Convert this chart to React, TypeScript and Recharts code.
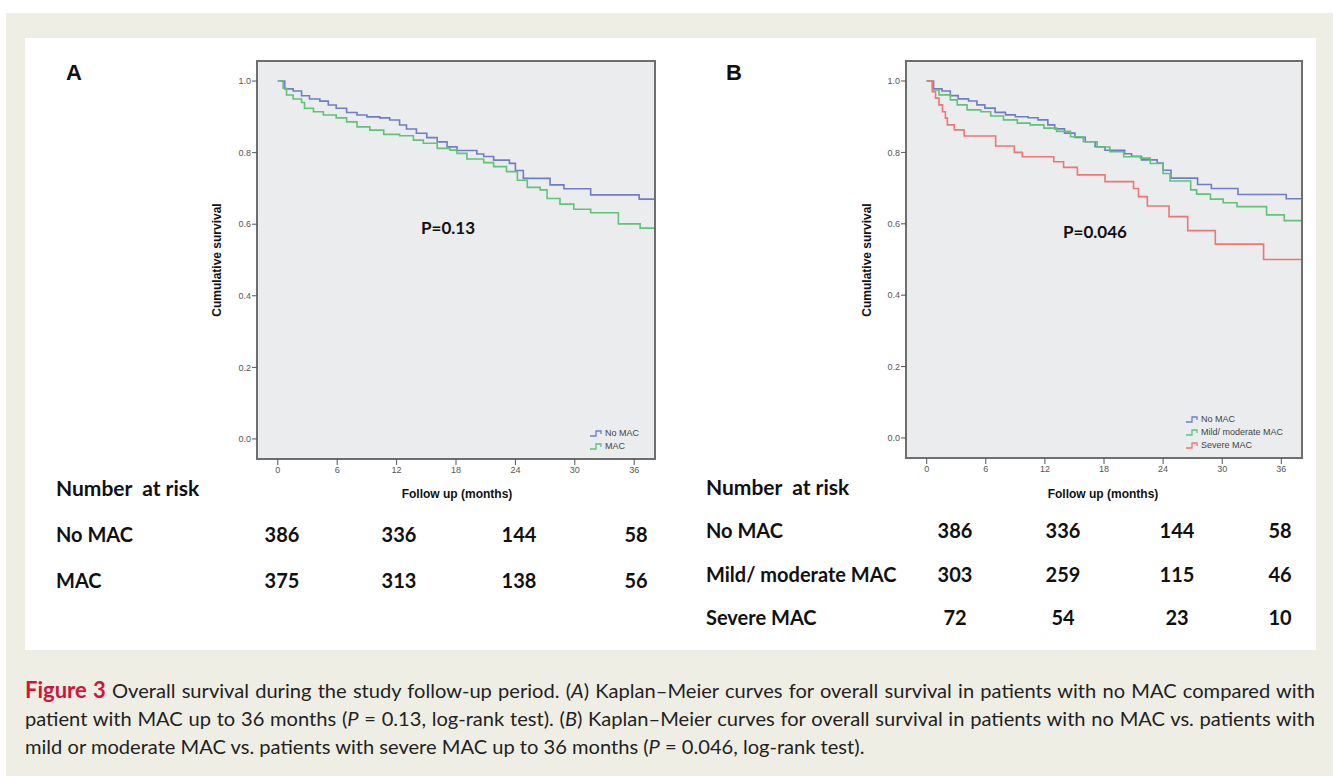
import React from "react";
import { LineChart, Line, XAxis, YAxis, ReferenceArea } from "recharts";

// tick values
const monthTicks = [0, 6, 12, 18, 24, 30, 36];
const survivalTicks = [0, 0.2, 0.4, 0.6, 0.8, 1.0];

// Kaplan-Meier steps (months, cumulative survival)
const noMacT = [0, 0.7, 1.55, 2.4, 3.2, 4.25, 5.1, 5.9, 6.95, 8.0, 9.0, 10.3, 11.3, 12.3, 13.0, 14.0, 15.05, 16.1, 17.1, 18.1, 20.1, 20.8, 21.8, 23.4, 24.0, 24.8, 27.5, 28.9, 31.6, 36.5, 38];
const noMacS = [1.0, 0.978, 0.972, 0.959, 0.95, 0.944, 0.933, 0.924, 0.912, 0.905, 0.9, 0.897, 0.891, 0.877, 0.866, 0.854, 0.842, 0.83, 0.816, 0.806, 0.796, 0.789, 0.779, 0.77, 0.75, 0.728, 0.71, 0.699, 0.682, 0.67, 0.67];

const macT = [0, 0.54, 0.88, 1.55, 2.4, 2.7, 3.6, 4.6, 5.9, 6.95, 8.0, 9.3, 10.7, 12.3, 13.7, 14.7, 16.1, 17.4, 18.1, 19.1, 20.8, 21.8, 23.1, 24.2, 25.2, 26.5, 27.2, 28.5, 29.9, 31.6, 34.4, 36.6, 38];
const macS = [1.0, 0.98, 0.961, 0.95, 0.94, 0.924, 0.914, 0.905, 0.897, 0.886, 0.872, 0.863, 0.851, 0.847, 0.835, 0.826, 0.812, 0.807, 0.798, 0.782, 0.772, 0.761, 0.747, 0.723, 0.703, 0.696, 0.672, 0.656, 0.642, 0.632, 0.601, 0.589, 0.589];

const mildT = [0, 0.58, 1.25, 2.4, 3.1, 4.1, 5.5, 6.5, 7.8, 9.2, 10.5, 11.9, 13.2, 14.6, 15.9, 17.3, 18.6, 20.0, 21.7, 22.7, 24.0, 24.7, 26.8, 27.4, 28.8, 30.1, 31.5, 34.5, 36.3, 38];
const mildS = [1.0, 0.975, 0.961, 0.947, 0.933, 0.919, 0.914, 0.902, 0.891, 0.882, 0.877, 0.868, 0.859, 0.844, 0.83, 0.815, 0.802, 0.788, 0.784, 0.769, 0.741, 0.72, 0.695, 0.683, 0.669, 0.659, 0.648, 0.625, 0.609, 0.609];

const severeT = [0, 0.58, 0.9, 1.25, 1.6, 1.9, 2.1, 2.8, 3.8, 7.0, 8.9, 9.7, 12.9, 13.9, 15.3, 18.1, 21.0, 21.5, 22.4, 24.6, 26.5, 29.3, 34.2, 38];
const severeS = [1.0, 0.97, 0.952, 0.933, 0.914, 0.896, 0.877, 0.863, 0.846, 0.818, 0.8, 0.788, 0.774, 0.758, 0.737, 0.718, 0.699, 0.676, 0.65, 0.62, 0.581, 0.543, 0.5, 0.5];

// number at risk
const riskA = [
  { label: "No MAC", values: [386, 336, 144, 58] },
  { label: "MAC", values: [375, 313, 138, 56] },
];
const riskB = [
  { label: "No MAC", values: [386, 336, 144, 58] },
  { label: "Mild/ moderate MAC", values: [303, 259, 115, 46] },
  { label: "Severe MAC", values: [72, 54, 23, 10] },
];

const BLUE = "#6f7dc9";
const GREEN = "#62c278";
const RED = "#f07575";

const zip = (t: number[], s: number[]) => t.map((x, i) => ({ t: x, s: s[i] }));

const noMac = zip(noMacT, noMacS);
const mac = zip(macT, macS);
const mild = zip(mildT, mildS);
const severe = zip(severeT, severeS);

const X_DOMAIN: [number, number] = [-2.1, 38.1];
const Y_DOMAIN: [number, number] = [-0.056, 1.056];

const tickStyle = { fontSize: 9, fill: "#555", fontFamily: "Liberation Sans, Arial, sans-serif" };

type Series = { name: string; color: string; data: { t: number; s: number }[] };

function KMChart({ series, margin }: { series: Series[]; margin: { top: number; right: number; bottom: number; left: number } }) {
  return (
    <LineChart width={660} height={520} margin={margin}>
      <XAxis
        type="number"
        dataKey="t"
        domain={X_DOMAIN}
        ticks={monthTicks}
        allowDataOverflow
        axisLine={false}
        tickLine={{ stroke: "#555" }}
        tickSize={6}
        tickMargin={2}
        tick={tickStyle}
        height={30}
      />
      <YAxis
        type="number"
        dataKey="s"
        domain={Y_DOMAIN}
        ticks={survivalTicks}
        allowDataOverflow
        axisLine={false}
        tickLine={{ stroke: "#555" }}
        tickSize={5}
        tickMargin={1}
        tick={tickStyle}
        tickFormatter={(v: number) => v.toFixed(1)}
        width={57}
      />
      <ReferenceArea
        x1={X_DOMAIN[0]}
        x2={X_DOMAIN[1]}
        y1={Y_DOMAIN[0]}
        y2={Y_DOMAIN[1]}
        fill="#ebecee"
        fillOpacity={1}
        stroke="#6e6e6e"
        strokeWidth={2}
        ifOverflow="visible"
      />
      {series.map((s) => (
        <Line
          key={s.name}
          data={s.data}
          dataKey="s"
          name={s.name}
          type="stepAfter"
          stroke={s.color}
          strokeWidth={1.6}
          dot={false}
          activeDot={false}
          isAnimationActive={false}
        />
      ))}
    </LineChart>
  );
}

const abs = (left: number, top: number, extra: React.CSSProperties = {}): React.CSSProperties => ({
  position: "absolute",
  left,
  top,
  whiteSpace: "nowrap",
  ...extra,
});

const sansBold: React.CSSProperties = { fontFamily: "Liberation Sans, Arial, sans-serif", fontWeight: 700, color: "#111" };
const tableFont: React.CSSProperties = { fontFamily: "Lato, sans-serif", fontWeight: 700, fontSize: 20, color: "#111", lineHeight: "24px" };

function StepIcon({ color }: { color: string }) {
  return (
    <svg width={14} height={9} style={{ display: "inline-block", verticalAlign: "middle", marginRight: 1 }}>
      <path d="M0 7 H6 V2 H11 V5" fill="none" stroke={color} strokeWidth={1.3} />
    </svg>
  );
}

function LegendBox({ left, top, items }: { left: number; top: number; items: Series[] }) {
  return (
    <div style={abs(left, top, { fontFamily: "Liberation Sans, Arial, sans-serif", fontSize: 9, color: "#444", lineHeight: "13px" })}>
      {items.map((it) => (
        <div key={it.name}>
          <StepIcon color={it.color} />
          {it.name}
        </div>
      ))}
    </div>
  );
}

function RiskTable({ left, titleY, rows, rowYs, cols }: { left: number; titleY: number; rows: { label: string; values: number[] }[]; rowYs: number[]; cols: number[] }) {
  return (
    <>
      <div style={abs(left, titleY - 12, { ...tableFont, fontSize: 21 })}>Number&nbsp; at risk</div>
      {rows.map((r, i) => (
        <React.Fragment key={r.label}>
          <div style={abs(left, rowYs[i] - 12, tableFont)}>{r.label}</div>
          {r.values.map((v, j) => (
            <div key={j} style={abs(cols[j], rowYs[i] - 12, { ...tableFont, transform: "translateX(-50%)" })}>
              {v}
            </div>
          ))}
        </React.Fragment>
      ))}
    </>
  );
}

export default function App() {
  const seriesA: Series[] = [
    { name: "No MAC", color: BLUE, data: noMac },
    { name: "MAC", color: GREEN, data: mac },
  ];
  const seriesB: Series[] = [
    { name: "No MAC", color: BLUE, data: noMac },
    { name: "Mild/ moderate MAC", color: GREEN, data: mild },
    { name: "Severe MAC", color: RED, data: severe },
  ];
  const captionLine: React.CSSProperties = {
    fontFamily: "Lato, sans-serif",
    fontSize: 20.1,
    color: "#222",
    lineHeight: "28px",
    height: 28,
    width: 1290,
    whiteSpace: "nowrap",
    textAlign: "justify",
    textAlignLast: "justify",
  };
  return (
    <div style={{ position: "absolute", left: 0, top: 0, width: 1339, height: 776, background: "#fff", overflow: "hidden" }}>
      <div style={{ position: "absolute", left: 6, top: 13, width: 1327, height: 763, background: "#efeee4" }} />
      <div style={{ position: "absolute", left: 25, top: 38, width: 1291, height: 612, background: "#fff" }} />

      {/* panel A */}
      <div style={{ position: "absolute", left: 0, top: 0 }}>
        <KMChart series={seriesA} margin={{ top: 61, right: 5, bottom: 31, left: 200 }} />
      </div>
      {/* panel B */}
      <div style={{ position: "absolute", left: 650, top: 0 }}>
        <KMChart series={seriesB} margin={{ top: 61, right: 8, bottom: 32, left: 199 }} />
      </div>

      <div style={abs(66, 60, { ...sansBold, fontSize: 22 })}>A</div>
      <div style={abs(726, 60, { ...sansBold, fontSize: 22 })}>B</div>

      <div style={abs(457, 487, { ...sansBold, fontSize: 12, transform: "translateX(-50%)" })}>Follow up (months)</div>
      <div style={abs(1103, 487, { ...sansBold, fontSize: 12, transform: "translateX(-50%)" })}>Follow up (months)</div>
      <div style={abs(217, 260, { ...sansBold, fontSize: 12, transform: "translate(-50%, -50%) rotate(-90deg)" })}>Cumulative survival</div>
      <div style={abs(867, 260, { ...sansBold, fontSize: 12, transform: "translate(-50%, -50%) rotate(-90deg)" })}>Cumulative survival</div>

      <div style={abs(448, 217, { fontFamily: "Lato, sans-serif", fontWeight: 700, fontSize: 17, color: "#111", transform: "translateX(-50%)" })}>P=0.13</div>
      <div style={abs(1095, 221, { fontFamily: "Lato, sans-serif", fontWeight: 700, fontSize: 17, color: "#111", transform: "translateX(-50%)" })}>P=0.046</div>

      <LegendBox left={590} top={427} items={seriesA} />
      <LegendBox left={1186} top={413} items={seriesB} />

      <RiskTable left={56} titleY={488} rows={riskA} rowYs={[534, 580]} cols={[282, 399, 519, 636]} />
      <RiskTable left={706} titleY={487} rows={riskB} rowYs={[530, 574, 617]} cols={[955, 1063, 1177, 1280]} />

      <div style={{ position: "absolute", left: 25, top: 676 }}>
        <div style={captionLine}>
          <span style={{ color: "#d2143a", fontWeight: 700, fontSize: 22 }}>Figure 3</span> Overall survival during the study follow-up period. (<i>A</i>) Kaplan–Meier curves for overall survival in patients with no MAC compared with
        </div>
        <div style={captionLine}>
          patient with MAC up to 36 months (<i>P</i> = 0.13, log-rank test). (<i>B</i>) Kaplan–Meier curves for overall survival in patients with no MAC vs. patients with
        </div>
        <div style={{ ...captionLine, textAlign: "left", textAlignLast: "left" }}>
          mild or moderate MAC vs. patients with severe MAC up to 36 months (<i>P</i> = 0.046, log-rank test).
        </div>
      </div>
    </div>
  );
}
